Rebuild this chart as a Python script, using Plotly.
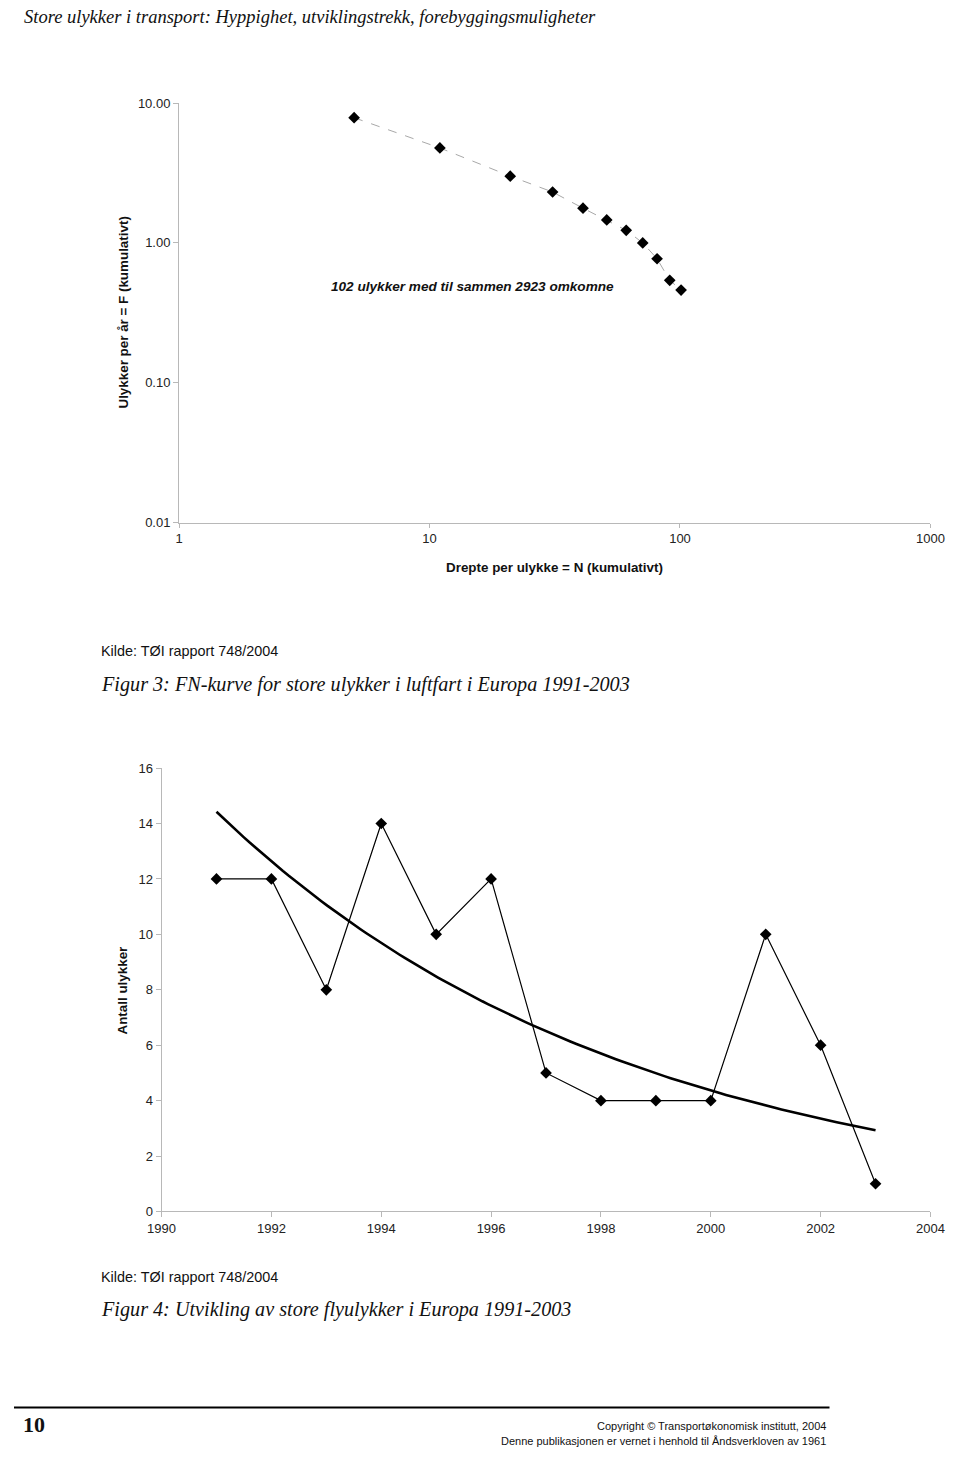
import numpy as np
import plotly.graph_objects as go

W, H = 960, 1458

# ---- Data: FN curve (Figure 3) ----
fn_killed = [5, 11, 21, 31, 41, 51, 61, 71, 81, 91, 101]
fn_freq = [7.85, 4.77, 3.00, 2.31, 1.77, 1.46, 1.23, 1.00, 0.77, 0.54, 0.46]
fn_xticks = [1, 10, 100, 1000]
fn_yticks = [10, 1, 0.1, 0.01]
fn_yticklabels = ["10.00", "1.00", "0.10", "0.01"]

# ---- Data: accidents per year (Figure 4) ----
years = [1991, 1992, 1993, 1994, 1995, 1996, 1997, 1998, 1999, 2000, 2001, 2002, 2003]
accidents = [12, 12, 8, 14, 10, 12, 5, 4, 4, 4, 10, 6, 1]
yr_ticks = [1990, 1992, 1994, 1996, 1998, 2000, 2002, 2004]
acc_ticks = [0, 2, 4, 6, 8, 10, 12, 14, 16]

# exponential trendline (as in the spreadsheet chart)
coef = np.polyfit(years, np.log(accidents), 1)
trend_x = np.linspace(years[0], years[-1], 120)
trend_y = np.exp(np.polyval(coef, trend_x))


def px(x):
    return x / W


def py(y):
    return 1 - y / H


SANS = "Liberation Sans, Arial, Helvetica, sans-serif"
SERIF = "Liberation Serif, Times New Roman, serif"
AXC = "#b8b8b8"

fig = go.Figure()

fig.add_trace(go.Scatter(
    x=fn_killed, y=fn_freq, mode="lines+markers", xaxis="x", yaxis="y",
    line=dict(color="#a8a8a8", width=1, dash="dash"),
    marker=dict(symbol="diamond", size=9, color="black"),
    showlegend=False, hoverinfo="x+y"))

fig.add_trace(go.Scatter(
    x=years, y=accidents, mode="lines+markers", xaxis="x2", yaxis="y2",
    line=dict(color="black", width=1.2),
    marker=dict(symbol="diamond", size=9, color="black"),
    showlegend=False))

fig.add_trace(go.Scatter(
    x=trend_x, y=trend_y, mode="lines", xaxis="x2", yaxis="y2",
    line=dict(color="black", width=2.6),
    showlegend=False, hoverinfo="skip"))

tickfont = dict(family=SANS, size=13, color="#222")

fig.update_layout(
    width=W, height=H,
    margin=dict(l=0, r=0, t=0, b=0),
    paper_bgcolor="white", plot_bgcolor="white",
    xaxis=dict(type="log", range=[0, 3], domain=[px(170), px(944)],
               anchor="y", tickvals=fn_xticks, ticktext=[str(v) for v in fn_xticks],
               showgrid=False, zeroline=False, showline=True, linecolor=AXC,
               ticks="outside", ticklen=4, tickcolor=AXC, tickfont=tickfont),
    yaxis=dict(type="log", range=[-2, 1], domain=[py(521), py(97)],
               anchor="x", tickvals=fn_yticks, ticktext=fn_yticklabels,
               showgrid=False, zeroline=False, showline=True, linecolor=AXC,
               ticks="outside", ticklen=5, tickcolor=AXC, tickfont=tickfont),
    xaxis2=dict(range=[1990, 2004], domain=[px(152), px(944)], anchor="y2",
                tickvals=yr_ticks, showgrid=False, zeroline=False,
                showline=True, linecolor=AXC, ticks="outside", ticklen=5,
                tickcolor=AXC, tickfont=tickfont),
    yaxis2=dict(range=[0, 16], domain=[py(1217), py(769)], anchor="x2",
                tickvals=acc_ticks, showgrid=False, zeroline=False,
                showline=True, linecolor=AXC, ticks="outside", ticklen=5,
                tickcolor=AXC, tickfont=tickfont),
)

ann = []


def text(x, y, s, size, family=SANS, xanchor="left", color="#111", textangle=0, yanchor="middle"):
    ann.append(dict(x=px(x), y=py(y), xref="paper", yref="paper", text=s,
                    showarrow=False, xanchor=xanchor, yanchor=yanchor,
                    textangle=textangle,
                    font=dict(family=family, size=size, color=color)))


text(8, 10, "<i>Store ulykker i transport: Hyppighet, utviklingstrekk, forebyggingsmuligheter</i>",
     18.5, SERIF)
text(113, 309, "<b>Ulykker per år = F (kumulativt)</b>", 13.4, SANS, xanchor="center", textangle=-90)
text(557, 566, "<b>Drepte per ulykke = N (kumulativt)</b>", 13.4, SANS, xanchor="center")
text(472, 282, "<b><i>102 ulykker med til sammen 2923 omkomne</i></b>", 13.6, SANS, xanchor="center")
text(88, 651, "Kilde: TØI rapport 748/2004", 14.4, SANS)
text(88, 685, "<i>Figur 3: FN-kurve for store ulykker i luftfart i Europa 1991-2003</i>", 20.2, SERIF)
text(112, 993, "<b>Antall ulykker</b>", 13.4, SANS, xanchor="center", textangle=-90)
text(88, 1283, "Kilde: TØI rapport 748/2004", 14.4, SANS)
text(88, 1316, "<i>Figur 4: Utvikling av store flyulykker i Europa 1991-2003</i>", 20.2, SERIF)
text(7, 1432, "<b>10</b>", 22, SERIF)
text(838, 1434, "Copyright © Transportøkonomisk institutt, 2004", 11, SANS, xanchor="right")
text(838, 1449, "Denne publikasjonen er vernet i henhold til Åndsverkloven av 1961", 11,
     SANS, xanchor="right")

fig.update_layout(annotations=ann)

fig.add_shape(type="line", xref="paper", yref="paper",
              x0=px(0), x1=px(840), y0=py(1415), y1=py(1415),
              line=dict(color="black", width=2))

fig.write_html("out.html",
               post_script="document.body.style.margin='0';document.body.style.overflow='hidden';")
